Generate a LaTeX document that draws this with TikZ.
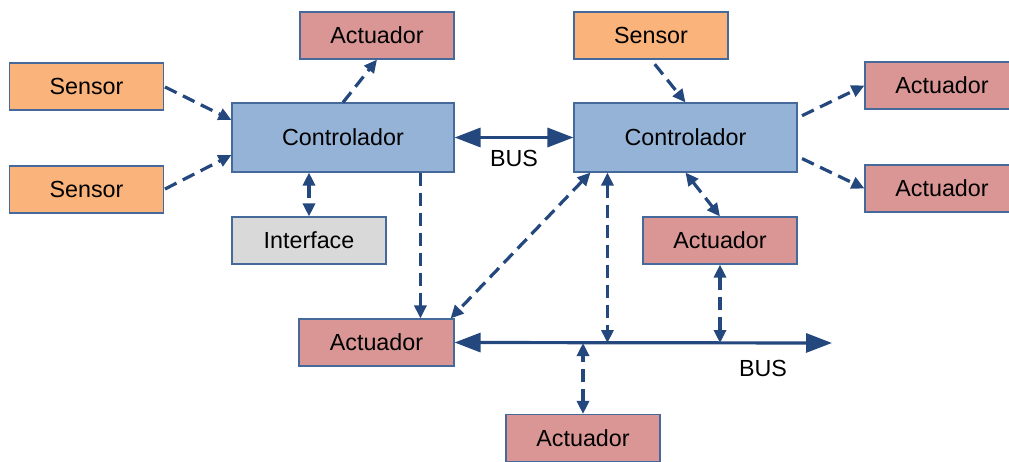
\documentclass[tikz,border=0pt]{standalone}
\usepackage{fontspec}
\setmainfont{Liberation Sans}
\usetikzlibrary{arrows.meta,calc}
\definecolor{sensorfill}{HTML}{F9B37B}
\definecolor{actfill}{HTML}{D99694}
\definecolor{ctrlfill}{HTML}{95B3D7}
\definecolor{ifacefill}{HTML}{D9D9D9}
\definecolor{boxline}{HTML}{46699B}
\definecolor{arrowcol}{HTML}{24487E}
\tikzset{
  box/.style={draw=boxline, line width=1.1pt, minimum width=154pt, minimum height=47pt, inner sep=0pt,
    font=\fontsize{23.3}{28}\selectfont},
  sensorbox/.style={box, fill=sensorfill},
  actbox/.style={box, fill=actfill},
  ctrlbox/.style={box, fill=ctrlfill, minimum width=222pt, minimum height=69pt},
  ifacebox/.style={box, fill=ifacefill},
  dlink/.style={draw=arrowcol, line width=3.2pt, dash pattern=on 13pt off 7pt, -{Triangle[length=13pt,width=12pt]}},
  dlinkboth/.style={dlink, {Triangle[length=13pt,width=12pt]}-{Triangle[length=13pt,width=12pt]}},
  buslink/.style={draw=arrowcol, line width=3.2pt, {Triangle[length=26pt,width=19pt]}-{Triangle[length=26pt,width=19pt]}},
  lbl/.style={font=\fontsize{23.3}{28}\selectfont, inner sep=0pt}
}
\begin{document}
\begin{tikzpicture}[x=1pt,y=-1pt]
\useasboundingbox (0,0) rectangle (1009,462);
\clip (0,0) rectangle (1009,462);
\node[sensorbox] (sL1) at (86.5,86.5) {Sensor};
\node[sensorbox] (sL2) at (86.5,189.5) {Sensor};
\node[actbox] (aTL) at (377,35.5) {Actuador};
\node[ctrlbox] (cL) at (343,137.5) {Controlador};
\node[ifacebox] (iface) at (309,240.5) {Interface};
\node[sensorbox] (sR) at (651,35.5) {Sensor};
\node[ctrlbox, minimum width=223pt] (cR) at (685.5,137.5) {Controlador};
\node[actbox] (aR1) at (942,85.5) {Actuador};
\node[actbox] (aR2) at (942,188.5) {Actuador};
\node[actbox] (aMR) at (720,240.5) {Actuador};
\node[actbox, minimum width=155pt] (aML) at (376.5,342.5) {Actuador};
\node[actbox] (aB) at (583,438) {Actuador};
\coordinate (busEnd) at (832,343);
\coordinate (cLdown) at ($(cL.south west)!0.847!(cL.south east)$);
\coordinate (cRdiag) at ($(cR.south west)+(17,0)$);
\coordinate (cRdown) at ($(cR.south west)+(34,0)$);
\coordinate (aMLdiag) at ($(aML.north east)+(-4,0)$);

% BUS between controllers
\draw[buslink] (cL.east) -- (cR.west) node[lbl, midway, below=11pt] (busA) {BUS};
% lower bus
\draw[buslink] (aML.east) -- (busEnd);
\node[lbl] (busB) at (763,368) {BUS};

% left side
\draw[dlink, shorten <=1pt] (sL1.east) -- ($(cL.north west)!0.25!(cL.south west)$);
\draw[dlink, shorten <=1pt] (sL2.east) -- ($(cL.north west)!0.75!(cL.south west)$);
\draw[dlink] (cL.north) -- (aTL.south);
\draw[dlinkboth] (iface.north |- cL.south) -- (iface.north);
\draw[dlink] (cLdown) -- (cLdown |- aML.north);

% right side
\draw[dlink, shorten <=6pt] (sR.south) -- (cR.north);
\draw[dlink, shorten <=5pt] ($(cR.north east)!0.22!(cR.south east)$) -- (aR1.west);
\draw[dlink, shorten <=5pt] ($(cR.north east)!0.77!(cR.south east)$) -- (aR2.west);
\draw[dlinkboth] (cR.south) -- (aMR.north);
\draw[dlinkboth] (cRdiag) -- (aMLdiag);
\draw[dlinkboth] (cRdown) -- (cRdown |- busEnd);
\draw[dlinkboth] (aMR.south) -- (aMR.south |- busEnd);
\draw[dlinkboth] (aB.north) -- (aB.north |- busEnd);
\end{tikzpicture}
\end{document}
